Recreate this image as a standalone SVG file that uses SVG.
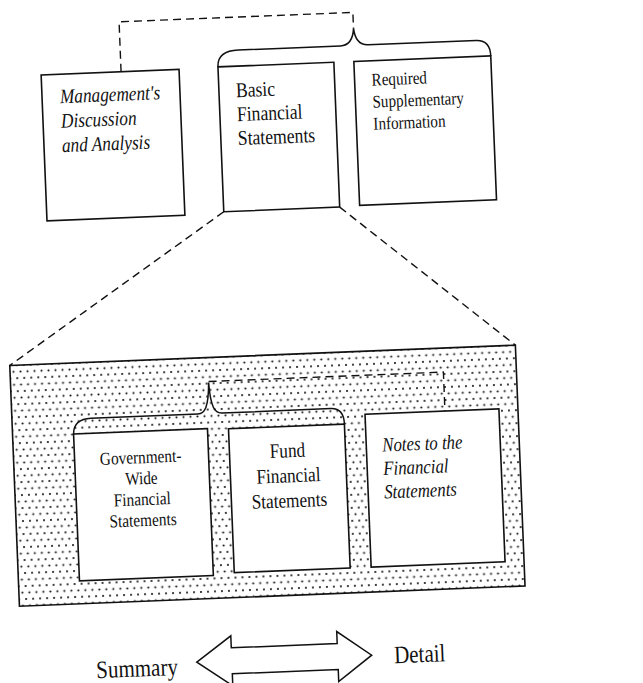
<svg xmlns="http://www.w3.org/2000/svg" width="643" height="683" viewBox="0 0 643 683">
<defs>
<pattern id="dots" patternUnits="userSpaceOnUse" width="7" height="13">
<circle cx="2" cy="2" r="1.05" fill="#111"/>
<circle cx="5.5" cy="8.5" r="1.05" fill="#111"/>
</pattern>
<style>
.box{fill:#fff;stroke:#111;stroke-width:1.6}
.ln{fill:none;stroke:#111;stroke-width:1.5}
.dash{fill:none;stroke:#111;stroke-width:1.4;stroke-dasharray:8 5}
.t{font-family:"Liberation Serif","Times New Roman",serif;fill:#111}
.i{font-style:italic}
</style>
</defs>
<rect width="643" height="683" fill="#fff"/>
<g transform="rotate(-2.3 320 340)">
<g id="detail-panel">
<rect x="9" y="353" width="506" height="241" fill="url(#dots)" stroke="#111" stroke-width="1.6"/>
</g>
<g id="connectors">
<path class="dash" d="M132,64 V14 H366 V30"/>
<path class="ln" d="M229,63 C229,52 236,47 250,47 L352,47 C360,47 365,42 366,30 C367,42 372,47 380,47 L488,47 C497,47 502,52 502,63"/>
<path class="dash" d="M229,208 L9,353"/>
<path class="dash" d="M345,208 L515,353"/>
<path class="dash" d="M207,377 H442 V416"/>
<path class="ln" d="M70,425 C70,414 76,409 88,409 L195,409 C202,409 206,403 207,378 C208,403 212,409 219,409 L328,409 C337,409 341,414 341,425"/>
</g>
<g id="mda">
<rect class="box" x="52" y="64" width="138" height="146"/>
<text class="t i" font-size="20.5" transform="translate(70,93) scale(0.84,1)"><tspan x="0" y="0">Management's</tspan><tspan x="0" dy="24.5">Discussion</tspan><tspan x="0" dy="24.5">and Analysis</tspan></text>
</g>
<g id="basic">
<rect class="box" x="229" y="63" width="116" height="145"/>
<text class="t" font-size="21" transform="translate(246,94) scale(0.84,1)"><tspan x="0" y="0">Basic</tspan><tspan x="0" dy="24">Financial</tspan><tspan x="0" dy="24">Statements</tspan></text>
</g>
<g id="rsi">
<rect class="box" x="365" y="63" width="137" height="144"/>
<text class="t" font-size="18" transform="translate(382,88) scale(0.84,1)"><tspan x="0" y="0">Required</tspan><tspan x="0" dy="22">Supplementary</tspan><tspan x="0" dy="22">Information</tspan></text>
</g>
<g id="govwide">
<rect class="box" x="70" y="424" width="134" height="147"/>
<text class="t" font-size="18.2" text-anchor="middle" transform="translate(136,456) scale(0.84,1)"><tspan x="0" y="0">Government-</tspan><tspan x="0" dy="21">Wide</tspan><tspan x="0" dy="21">Financial</tspan><tspan x="0" dy="21">Statements</tspan></text>
</g>
<g id="fund">
<rect class="box" x="225" y="425" width="116" height="144"/>
<text class="t" font-size="20.5" text-anchor="middle" transform="translate(283,456) scale(0.84,1)"><tspan x="0" y="0">Fund</tspan><tspan x="0" dy="25">Financial</tspan><tspan x="0" dy="25">Statements</tspan></text>
</g>
<g id="notes">
<rect class="box" x="362" y="416" width="134" height="153"/>
<text class="t i" font-size="20" transform="translate(378,454) scale(0.84,1)"><tspan x="0" y="0">Notes to the</tspan><tspan x="0" dy="23.5">Financial</tspan><tspan x="0" dy="23.5">Statements</tspan></text>
</g>
<g id="arrow">
<path class="ln" fill="#fff" d="M184,657 L219,632 L219,644 L325,644 L325,632 L359,657 L325,682 L325,670 L219,670 L219,682 Z"/>
</g>
<g id="summary">
<text class="t" font-size="25" text-anchor="middle" transform="translate(124,669) scale(0.84,1)">Summary</text>
</g>
<g id="detail">
<text class="t" font-size="25" text-anchor="middle" transform="translate(407,666) scale(0.84,1)">Detail</text>
</g>
</g>
</svg>
